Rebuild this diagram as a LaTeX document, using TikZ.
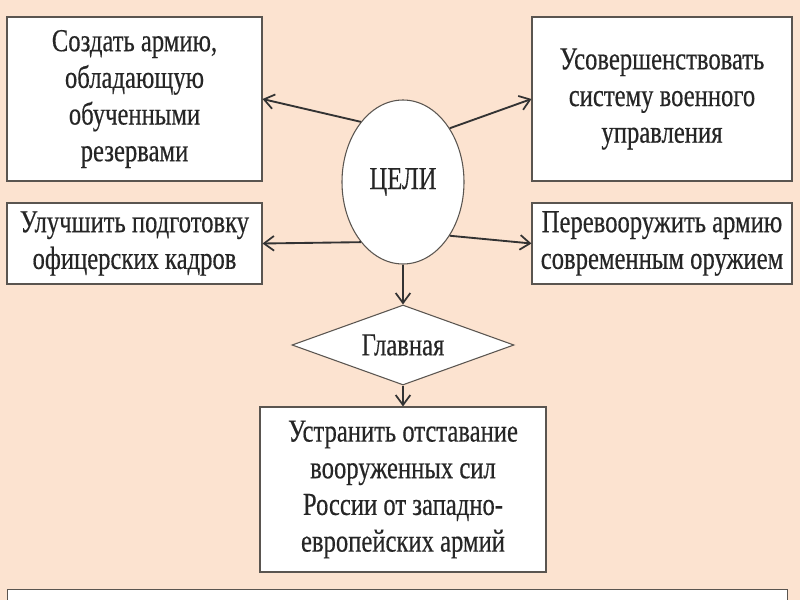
\documentclass[tikz,border=0pt]{standalone}
\usepackage{fontspec}
\setmainfont{Liberation Serif}[FakeStretch=0.77,FakeBold=0.4]
\usetikzlibrary{shapes.geometric,arrows.meta}
\definecolor{bgpeach}{RGB}{252,227,208}
\definecolor{boxline}{RGB}{90,85,80}
\begin{document}
\begin{tikzpicture}[x=0.75pt,y=-0.75pt,
  txt/.style={font=\fontsize{24}{27.5}\selectfont, align=center, text=black!85},
  goalbox/.style={txt, draw=boxline, fill=white, line width=0.8pt, inner sep=0pt, rectangle},
  conn/.style={draw=black!80, line width=1.4pt, -{Straight Barb[length=7.5pt,width=11pt,line width=1.3pt]}}
  ]
\useasboundingbox (0,0) rectangle (800,600);
\clip (0,0) rectangle (800,600);
\fill[bgpeach] (0,0) rectangle (800,600);

\node[goalbox, minimum width=191.25pt, minimum height=123pt] (b1) at (134.5,99)
  {Создать армию,\\обладающую\\обученными\\резервами};
\node[goalbox, minimum width=191.25pt, minimum height=60.75pt] (b2) at (134.5,243.5)
  {Улучшить подготовку\\офицерских кадров};
\node[goalbox, minimum width=195pt, minimum height=123pt] (b3) at (662,99)
  {Усовершенствовать\\систему военного\\управления};
\node[goalbox, minimum width=195pt, minimum height=60.75pt] (b4) at (662,243.5)
  {Перевооружить армию\\современным оружием};
\node[txt, ellipse, draw=boxline, fill=white, line width=0.8pt, inner sep=0pt,
  minimum width=91.5pt, minimum height=123pt] (cel) at (403,182) {ЦЕЛИ};
\node[txt, diamond, draw=boxline, fill=white, line width=0.8pt, inner sep=0pt, aspect=2.775,
  minimum width=166.5pt, minimum height=60pt] (dia) at (403,345) {Главная};
\node[goalbox, minimum width=214.5pt, minimum height=123.75pt] (b5) at (403,489.5)
  {Устранить отставание\\вооруженных сил\\России от западно-\\европейских армий};
\node[draw=boxline, fill=white, line width=0.8pt, inner sep=0pt, rectangle,
  minimum width=585pt, minimum height=30pt, anchor=north west] (b6) at (7,589) {};

\draw[conn] (cel.125) -- (b1.east);
\draw[conn] (cel.235) -- (b2.east);
\draw[conn] (cel.49) -- (b3.west);
\draw[conn] (cel.311) -- (b4.west);
\draw[conn] (cel.south) -- (dia.north);
\draw[conn] (dia.south) -- (b5.north);
\end{tikzpicture}
\end{document}
